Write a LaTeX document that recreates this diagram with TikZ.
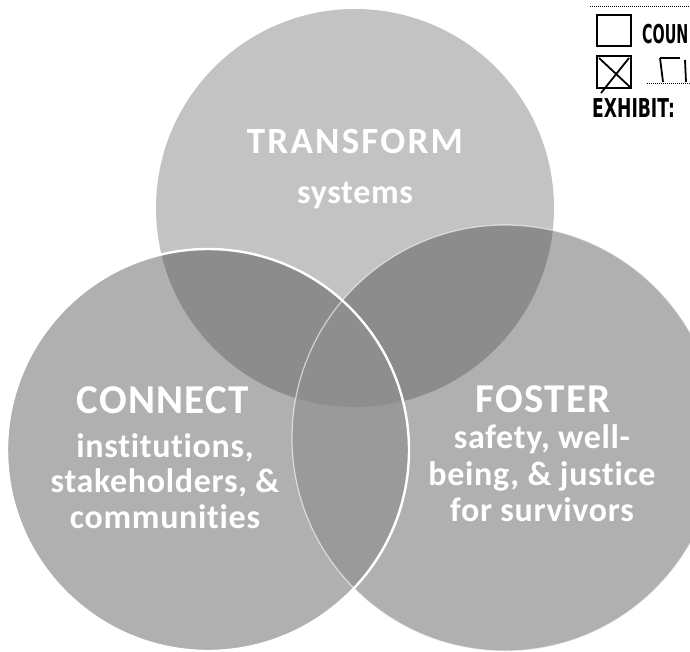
\documentclass[tikz,border=0pt]{standalone}
\usepackage{fontspec}
\setmainfont{Carlito}[Ligatures={NoCommon,NoContextual}]
\newfontfamily\stampfont[FakeStretch=0.66]{DejaVu Sans}
\newfontfamily\stampnarrow[FakeStretch=0.55]{DejaVu Sans}
\definecolor{topc}{HTML}{C3C3C3}
\definecolor{sidec}{HTML}{B0B0B0}
\definecolor{ovc}{HTML}{8C8C8C}
\definecolor{lrc}{HTML}{9A9A9A}
\definecolor{trc}{HTML}{8E8E8E}
\begin{document}
\begin{tikzpicture}[x=1pt,y=-1pt,
  title/.style={text=white,font=\bfseries\fontsize{41}{41}\selectfont\addfontfeature{LetterSpace=3},anchor=base,inner sep=0pt},
  ttitle/.style={text=white,font=\bfseries\fontsize{37}{37}\selectfont\addfontfeature{LetterSpace=6},anchor=base,inner sep=0pt},
  body/.style={text=white,font=\bfseries\fontsize{34}{34}\selectfont\addfontfeature{LetterSpace=2},anchor=base,inner sep=0pt},
  stamp/.style={text=black,font=\stampfont\bfseries\fontsize{26}{26}\selectfont,anchor=base west,inner sep=0pt},
  stampn/.style={text=black,font=\stampnarrow\bfseries\fontsize{26}{26}\selectfont,anchor=base west,inner sep=0pt},
  ink/.style={draw=black,line width=1.8pt}]
\useasboundingbox (0,0) rectangle (690,651);
\fill[white] (0,0) rectangle (690,651);
\def\circT{(355,208) circle[radius=199pt]}
\def\circL{(208,450) circle[radius=201pt]}
\def\circR{(505,438) circle[radius=213pt]}
% single regions
\fill[topc] \circT;
\fill[sidec] \circR;
\fill[sidec] \circL;
% pairwise overlaps
\begin{scope}\clip \circT; \fill[ovc] \circL; \fill[ovc] \circR; \end{scope}
\begin{scope}\clip \circL; \fill[lrc] \circR; \end{scope}
\begin{scope}\clip \circT; \clip \circL; \fill[trc] \circR; \end{scope}
% outlines
\draw[white,line width=1.2pt,opacity=0.6] \circR;
\draw[white,line width=2.4pt] \circL;
% texts
\node[ttitle] (tr) at (355,153) {TRANSFORM};
\node[body] (sy) at (355,203) {systems};
\node[title] (co) at (163,413) {CONNECT};
\node[body] (in) at (165,457) {institutions,};
\node[body] (st) at (165,492) {stakeholders, \&};
\node[body] (cm) at (165,528) {communities};
\node[title] (fo) at (543,412) {FOSTER};
\node[body] (sa) at (542,448) {safety, well-};
\node[body] (be) at (542,485) {being, \& justice};
\node[body] (fs) at (542,521) {for survivors};
% stamp in the corner
\draw[black,line width=1pt,densely dotted] (590,6) -- (690,6);
\draw[ink] (597,15) rectangle (631,46);
\node[stampn] (cn) at (642,43) {COUN};
\draw[ink] (597,56) rectangle (631,88);
\draw[black,line width=1.8pt] (599,58) -- (630,87);
\draw[black,line width=1.8pt] (629,58) -- (601,93);
\draw[black,line width=1.2pt] (660,58) -- (680,58);
\draw[black,line width=1.8pt] (660,58) -- (663,82);
\draw[black,line width=1.8pt] (685,60) -- (686,82);
\draw[black,line width=1pt,densely dotted] (647,83) -- (690,83);
\node[stamp] (ex) at (592,117) {EXHIBIT:};
\end{tikzpicture}
\end{document}
